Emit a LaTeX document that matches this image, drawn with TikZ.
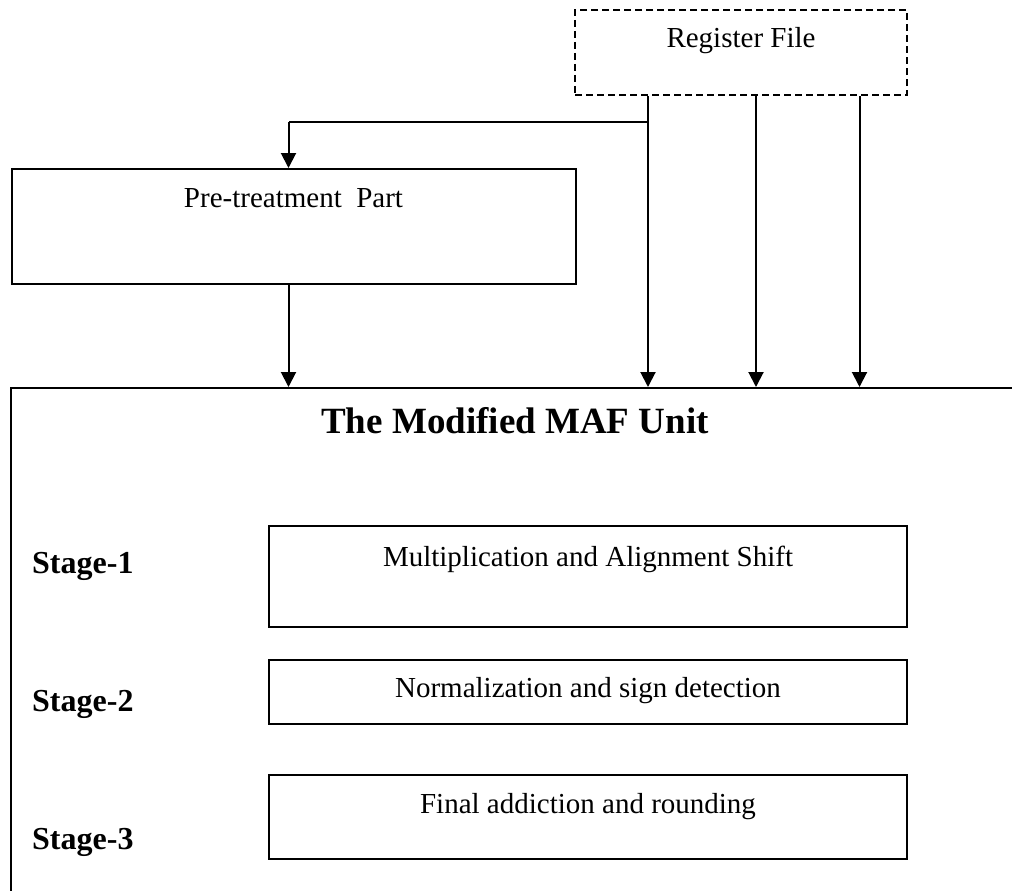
\documentclass[tikz,border=0pt]{standalone}
\usepackage{fontspec}
\setmainfont{Liberation Serif}
\usetikzlibrary{arrows.meta}
\begin{document}
\begin{tikzpicture}[x=1pt,y=-1pt,
  box/.style={draw, line width=2pt, inner sep=0pt},
  dbox/.style={box, dash pattern=on 7pt off 4pt},
  lbl/.style={anchor=base, inner sep=0pt, font=\fontsize{29}{34}\selectfont},
  ttl/.style={anchor=base, inner sep=0pt, font=\fontsize{37}{44}\selectfont\bfseries},
  stg/.style={anchor=base west, inner sep=0pt, font=\fontsize{32}{38}\selectfont\bfseries},
  conn/.style={line width=2pt, -{Triangle[length=15pt,width=15pt]}},
  wire/.style={line width=2pt}]
\clip (0,0) rectangle (1012,891);
% boxes
\node[dbox, minimum width=332pt, minimum height=85pt] (rf) at (741,52.5) {};
\node[box, minimum width=564pt, minimum height=115pt] (pre) at (293.5,226.5) {};
\node[box, minimum width=1029pt, minimum height=532pt] (maf) at (525.5,654) {};
\node[box, minimum width=638pt, minimum height=101pt] (s1) at (588,576.5) {};
\node[box, minimum width=638pt, minimum height=64pt] (s2) at (588,692) {};
\node[box, minimum width=638pt, minimum height=84pt] (s3) at (588,817) {};
% texts
\node[lbl] (rft) at (741,48) {Register File};
\node[lbl] (pret) at (293.5,207) {Pre-treatment\ \ Part};
\node[ttl] (title) at (515,433) {The Modified MAF Unit};
\node[stg] (st1) at (32,573) {Stage-1};
\node[stg] (st2) at (32,711) {Stage-2};
\node[stg] (st3) at (32,849) {Stage-3};
\node[lbl] (s1t) at (588,566) {Multiplication and Alignment Shift};
\node[lbl] (s2t) at (588,697) {Normalization and sign detection};
\node[lbl] (s3t) at (588,813) {Final addiction and rounding};
% connector guides
\coordinate (x0) at (288.5,122);
\coordinate (x1) at (648,122);
\coordinate (x2) at (756,122);
\coordinate (x3) at (859.5,122);
% connectors
\draw[wire] (x1) -- (x0);
\draw[conn] (x0) -- (pre.north -| x0);
\draw[conn] (pre.south -| x0) -- (maf.north -| x0);
\draw[conn] (rf.south -| x1) -- (maf.north -| x1);
\draw[conn] (rf.south -| x2) -- (maf.north -| x2);
\draw[conn] (rf.south -| x3) -- (maf.north -| x3);
\end{tikzpicture}
\end{document}
